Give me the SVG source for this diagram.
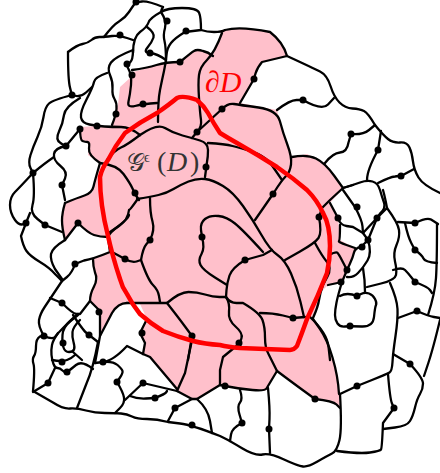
<svg xmlns="http://www.w3.org/2000/svg" width="440" height="473" viewBox="0 0 440 473">
<style>
.l{fill:none;stroke:#000;stroke-width:2.300;stroke-linecap:round;stroke-linejoin:round}
.d{fill:#000;stroke:none}
.t{font-family:"Liberation Serif","DejaVu Serif",serif}
</style>
<rect width="440" height="473" fill="#fff"/>
<path id="region" fill="#ffc0cb" d="M222 31Q240 26 270 32Q283 42 287 56L262 62L257 68L254 79L240 103L277 110L283 133L292 157L307 154L325 163L343 188L330 203L338 218L340 240L355 248L353 257L347 270L342 282L328 285L320 293L318 307L313 318L327 339L338 376L340 408L333 401L315 399L293 383L277 371L268 386L265 391L240 389L220 385L197 399L192 399L177 391L150 357L143 354L145 343L140 333L147 319L140 304L127 303Q118 303 112 313L100 336L100 311L90 301L90 294L98 279L93 266L93 259L110 251L108 237L100 237L88 233L78 223L65 240L62 228L62 213L65 203L77 198L92 193L95 180L100 163L88 155L90 142L85 142L80 140L80 127L97 126L112 127L115 115L118 105L120 87L130 78L133 72L147 68L166 62L180 62L192 52L197 50L208 52L213 55Z"/>
<g id="connectors" class="l">
<path d="M104 37Q113 25 119 21.5Q125 18 129 12Q133 6 134.5 4Q136 2 142 1.5Q148 1 163 7"/>
<path d="M163 7Q161 10 161 12Q167 8 182 8Q197 8 199 12.5Q201 17 201 30L185 32Q175 38 171 43Q167 48 166.5 55Q166 62 164 71Q162 80 160 90Q158 100 158 122"/>
<path d="M201 30Q207 32 214 32Q222 32 225 30Q240 26 270 32Q283 42 287 56"/>
<path d="M222 33Q215 52 207 60Q200 67 199 75Q198 83 199 98Q200 113 201 120Q202 127 197 132"/>
<path d="M180 62Q192 52 194 51Q197 49 203 51Q208 52 213 56"/>
<path d="M161 12Q150 18 148.5 22.5Q147 27 140 32Q133 37 133 53"/>
<path d="M161 12Q167 21 165 28Q163 35 164.500 41Q166 47 166 62"/>
<path d="M147 27Q155 33 153.500 37.500Q152 42 147.500 47.500Q143 53 150 53Q158 54 166 60"/>
<path d="M133 50Q115 57 111 62.500Q107 68 110 75Q113 82 112.500 88.500Q112 95 114.500 99Q117 103 116.500 109Q116 115 112 125"/>
<path d="M133 50Q133 60 130 62.500Q125 64 128 68Q132 75 131 85Q130 95 128.500 101.500Q127 108 135 106Q143 104 157 103"/>
<path d="M132 70Q147 68 156.500 65Q166 62 180 62"/>
<path d="M107 73Q95 77 94 82Q93 87 86.500 99.500Q80 112 81 117.500Q82 123 89.500 124.500Q97 126 104.500 126.500Q112 127 121 127Q130 127 140 135"/>
<path d="M68 52Q77 45 82.500 44Q88 43 91.500 40Q95 37 99.500 37Q104 37 112 36Q120 35 133 40"/>
<path d="M68 52Q68 80 70 87.500Q71 92 72 95Q53 100 49 103.500Q45 107 43.500 117Q42 127 37.500 137Q33 147 30.500 155Q28 163 30.500 168Q32 171 33 173Q20 187 15 192Q10 197 10 205Q10 213 15 220Q20 227 26 223"/>
<path d="M72 95Q80 98 86 92.500L92 87"/>
<path d="M80 98Q65 107 64 115Q63 123 59 131.500Q55 140 60.500 143Q63 145 66 146L80 129"/>
<path d="M66 146Q55 148 54 154Q53 160 60.500 166Q68 172 65 178.500L62 185L65 200"/>
<path d="M33 173Q45 163 54 157"/>
<path d="M33 173Q35 197 32.500 205Q30 213 37.500 219L45 225L62 232"/>
<path d="M26 223L30 213"/>
<path d="M26 223L21 236Q23 246 26.500 251Q30 256 40 262Q50 268 55.500 274.500L62 281"/>
<path d="M65 240Q52 248 51 254Q50 260 55 269L62 279"/>
<path d="M65 203Q62 213 62 220.500Q62 228 65 240"/>
<path d="M65 203Q77 198 84.500 195.500Q92 193 93.500 186.500Q95 180 100 163"/>
<path d="M65 240L78 223Q88 233 94 235Q100 237 108 237"/>
<path d="M108 237Q110 232 119 226Q128 220 129 210Q130 210 137 200"/>
<path d="M108 237L110 252Q93 259 84 260.500L75 264"/>
<path d="M75 264Q72 273 67 277L62 281"/>
<path d="M93 259Q93 266 95 272.500Q98 279 94 286.500Q90 294 90 301"/>
<path d="M100 163Q88 155 89 148.500Q90 142 87.500 142Q85 142 82.500 141Q80 140 80 127"/>
<path d="M100 163Q117 165 123.500 174Q130 183 132.500 188.500L135 194L139 200"/>
<path d="M140 135Q157 123 165 128Q173 133 182.500 135.500Q192 138 200 140.500Q208 143 208 150Q208 157 207 162L205 177"/>
<path d="M107 160Q115 150 121 147.500Q127 145 140 135"/>
<path d="M197 132L192 138"/>
<path d="M287 56L262 62Q257 68 255.500 73.500L254 79L240 103"/>
<path d="M222 109L197 132"/>
<path d="M222 109Q228 103 234 104Q240 105 258.500 107.500Q277 110 280 121.500Q283 133 287.500 145Q292 157 291 164.500Q290 172 286 176Q282 180 277.500 187L273 194L255 220"/>
<path d="M208 143Q225 144 232.500 146Q240 148 251.500 151.500Q263 155 270 162.500L282 180"/>
<path d="M292 157Q307 154 316 158.500Q325 163 334 175.500L343 188L330 200L322 208L319 217Q322 233 318.500 238Q315 243 300 251.500L285 260"/>
<path d="M315 243Q322 256 327 262Q332 268 327.500 276.500L323 285Q320 293 319 300Q318 307 313 318"/>
<path d="M325 163Q333 153 340 152.500Q347 152 348.500 142.500L351 134Q363 135 369 130L375 125"/>
<path d="M277 110Q290 100 296.500 100L303 100Q322 111 328 104.500L334 98"/>
<path d="M287 56Q313 68 320 71.500Q327 75 330.500 86Q334 97 339.500 102.500Q345 108 352.500 108.500Q360 109 364 111Q368 113 375 125"/>
<path d="M375 125Q383 135 388 139Q393 143 400 142.500Q407 142 409.500 147.500Q412 153 413 161.500Q414 170 418.500 177.500Q423 185 440 193"/>
<path d="M381 131L378 150Q367 170 367 180"/>
<path d="M343 188Q353 185 360 182.500Q367 180 372.500 181.500Q378 183 380 190Q382 197 384 202.500Q386 208 380.500 213L377 218L363 233"/>
<path d="M378 183Q390 177 395 176.500L402 175.500L414 169"/>
<path d="M343 190L355 207Q362 220 362.500 226.500L363 233"/>
<path d="M330 203L338 218Q340 225 346.500 226L353 227L363 233L368 240Q372 253 367.500 260.500Q363 268 358 273Q353 278 347 277"/>
<path d="M368 240L361 247Q355 248 354 252.500Q353 257 350 263.500L347 270L342 282L328 285"/>
<path d="M340 225Q340 240 339 241Q338 242 346.500 245L355 248"/>
<path d="M329 255Q335 252 337 252.500Q338 253 340.500 257.500L347 270"/>
<path d="M342 282Q338 295 336.500 302.500Q335 310 335 315Q335 320 337.500 323.500Q340 327 345 326.500Q350 326 361.500 326.500Q373 327 374 317Q375 307 376 305Q377 303 375 299Q373 295 369 293.500Q365 292 361 294L357 296Q347 292 340 296"/>
<path d="M363 268Q365 280 365 292"/>
<path d="M377 218L368 240"/>
<path d="M377 218L387 208Q398 223 399 230Q400 237 396.500 245Q393 253 395 261.500Q397 270 396 275Q395 280 381 283.500L367 287"/>
<path d="M343 188L353 185"/>
<path d="M387 208Q385 197 383 190"/>
<path d="M398 222L415 223Q427 217 431 219.500Q435 222 438 224"/>
<path d="M405 223Q408 237 411.500 243.500L415 250Q422 255 423.500 258.500Q425 262 437 263"/>
<path d="M437 224Q437 263 436 278Q435 293 428 315"/>
<path d="M393 270Q402 267 405 270Q408 273 411.500 277.500L415 282Q428 287 430 290L432 293"/>
<path d="M390 283Q397 299 397.500 309Q398 319 395.500 336Q393 353 392.500 362Q392 371 389.500 372.500Q387 374 372 380L357 386L340 394"/>
<path d="M398 318L417 311Q428 316 434 317L440 318"/>
<path d="M440 320Q433 349 428.500 362.500L424 376"/>
<path d="M393 354L410 364Q423 378 423 383.500Q423 389 420 394Q417 399 415 407.500Q413 416 410 421Q407 426 395 427.500L383 429"/>
<path d="M388 374Q390 399 392 403.500L394 408L383 423Q382 448 381 449.500Q380 451 370 452.500Q360 454 337 451"/>
<path d="M340 394Q342 429 339.500 440Q337 451 332 453.500Q327 456 317.500 461.500Q308 467 303 466.500Q298 466 284 459.500Q270 453 262.500 454.500Q255 456 242.500 448.500Q230 441 225 438.500L220 436Q192 425 180 423.500L168 422Q157 419 147 419Q137 419 132 416.500Q127 414 121 413.500Q115 413 105 413Q95 413 86 410.500Q77 408 70 408.500Q63 409 53 402.500L33 391"/>
<path d="M33 391Q35 369 33.500 364Q32 359 34 356Q36 353 36 346Q36 339 40 336.500L44 336Q38 326 39 320Q40 314 45 306.500Q50 299 56 290L62 281"/>
<path d="M50 298L62 303Q73 314 76.500 314L80 314L90 301L100 311L100 336"/>
<path d="M44 336Q53 340 55.500 336.500Q58 333 65.500 325.500Q73 318 78 314"/>
<path d="M73 315Q83 330 86 332.500L89 335L98 342"/>
<path d="M58 333Q53 340 52 345Q51 350 51.500 355Q52 360 53.500 364Q55 368 57.500 368Q60 368 62.500 370.500Q65 373 67.500 371.500Q70 370 76 365Q82 360 93 369"/>
<path d="M52 360Q62 362 67 360Q72 358 75 355"/>
<path d="M55 368L48 383L33 392"/>
<path d="M80 320Q73 327 72.500 332Q72 337 73.500 342Q75 347 74 349.500Q73 352 69 352Q65 352 63.500 347.500Q62 343 62.500 335Q63 327 70.500 321L78 315"/>
<path d="M73 352L82 360"/>
<path d="M98 342Q93 369 86.500 383.500L77 408"/>
<path d="M95 363L103 362Q113 361 117.500 365Q122 369 122.500 371Q123 373 120 377.500L117 382Q123 392 124 397.500Q125 403 120 408L115 413"/>
<path d="M125 400L143 383L177 391"/>
<path d="M130 396Q137 399 146 398.500L155 398Q165 394 166 392.500L167 391"/>
<path d="M177 391L192 399L175 408L168 421"/>
<path d="M192 399L197 399Q208 409 210 421L212 433"/>
<path d="M197 399L220 385L225 386Q240 389 252.500 390Q265 391 266.500 388.500Q268 386 272.500 378.500L277 371"/>
<path d="M240 390Q243 399 240 402.500Q237 406 239.500 414.500L242 423Q232 428 231 434.500L230 441"/>
<path d="M268 388Q270 409 269.500 419L269 429L270 453"/>
<path d="M277 371Q293 383 304 391L315 399Q333 401 336.500 404.500L340 408"/>
<path d="M339 394Q338 376 332.500 357.500Q327 339 320 329L313 319"/>
<path d="M127 303Q118 303 112 313L100 336L95 363"/>
<path d="M137 199Q150 197 158.500 195Q167 193 173.500 189Q180 185 188.500 181.500Q197 178 205 179Q213 180 223 186Q233 192 243 206Q253 220 261.500 235Q270 250 277.500 255Q285 260 291 273.500Q297 287 300.500 302L304 317"/>
<path d="M272 250L263 255L245 260Q232 268 229.500 275.500Q227 283 226.500 290L226 297"/>
<path d="M263 252Q243 230 235 223.500Q227 217 218.500 216Q210 215 205 219Q200 223 201 230L202 237Q205 248 201.500 254Q198 260 200.500 265Q203 270 215 277.500L227 285"/>
<path d="M110 232Q128 220 129 215"/>
<path d="M112 252L125 259Q132 263 136.500 261.500L141 260Q143 248 146.500 244L150 240Q155 230 152.500 221.500Q150 213 150 198"/>
<path d="M141 260Q148 280 153 285Q158 290 159 296L160 302"/>
<path d="M127 303Q137 303 152 303L167 303Q178 317 185 326.500L192 336L188 360"/>
<path d="M147 319L140 333L145 343L143 354"/>
<path d="M167 303Q180 292 188.500 292Q197 292 205 294.500Q213 297 219.500 297L226 297Q230 303 229 311.500Q228 320 235.500 326.500Q243 333 241.500 338L240 343"/>
<path d="M226 297Q230 303 236.500 303L243 303Q260 313 262.500 320Q265 327 265 337.500Q265 348 268.500 354L277 371"/>
<path d="M260 313Q273 313 283 315.500L293 318L305 317"/>
<path d="M240 343L223 357L220 370L220 385"/>
<path d="M192 340L185 373L177 391"/>
<path d="M143 354L127 346Q113 361 103 362"/>
<path d="M143 354L150 357L177 389"/>
<path d="M310 317Q327 333 328.500 346.500L330 360"/>
</g>
<g id="dots" class="d">
<circle cx="136" cy="2" r="3.500"/><circle cx="167" cy="21" r="3.500"/><circle cx="120" cy="35" r="3.500"/><circle cx="186" cy="31" r="3.500"/><circle cx="150" cy="53" r="3.500"/><circle cx="127" cy="64" r="3.500"/><circle cx="132" cy="75" r="3.500"/><circle cx="180" cy="62" r="3.500"/><circle cx="143" cy="104" r="3.500"/><circle cx="116" cy="114" r="3.500"/><circle cx="97" cy="126" r="3.500"/><circle cx="80" cy="129" r="3.500"/><circle cx="72" cy="95" r="3.500"/><circle cx="66" cy="146" r="3.500"/><circle cx="62" cy="185" r="3.500"/><circle cx="33" cy="173" r="3.500"/><circle cx="26" cy="223" r="3.500"/><circle cx="45" cy="225" r="3.500"/><circle cx="78" cy="223" r="3.500"/><circle cx="135" cy="193" r="3.500"/><circle cx="206" cy="167" r="3.500"/><circle cx="197" cy="132" r="3.500"/><circle cx="222" cy="109" r="3.500"/><circle cx="254" cy="79" r="3.500"/><circle cx="303" cy="100" r="3.500"/><circle cx="351" cy="134" r="3.500"/><circle cx="378" cy="150" r="3.500"/><circle cx="401" cy="176" r="3.500"/><circle cx="357" cy="207" r="3.500"/><circle cx="377" cy="218" r="3.500"/><circle cx="338" cy="218" r="3.500"/><circle cx="319" cy="217" r="3.500"/><circle cx="273" cy="194" r="3.500"/><circle cx="368" cy="240" r="3.500"/><circle cx="362" cy="247" r="3.500"/><circle cx="347" cy="270" r="3.500"/><circle cx="341" cy="282" r="3.500"/><circle cx="357" cy="296" r="3.500"/><circle cx="350" cy="326" r="3.500"/><circle cx="415" cy="223" r="3.500"/><circle cx="415" cy="250" r="3.500"/><circle cx="415" cy="282" r="3.500"/><circle cx="417" cy="311" r="3.500"/><circle cx="357" cy="386" r="3.500"/><circle cx="410" cy="364" r="3.500"/><circle cx="394" cy="408" r="3.500"/><circle cx="315" cy="399" r="3.500"/><circle cx="225" cy="386" r="3.500"/><circle cx="242" cy="423" r="3.500"/><circle cx="269" cy="429" r="3.500"/><circle cx="293" cy="318" r="3.500"/><circle cx="239" cy="343" r="3.500"/><circle cx="245" cy="260" r="3.500"/><circle cx="202" cy="237" r="3.500"/><circle cx="150" cy="240" r="3.500"/><circle cx="125" cy="259" r="3.500"/><circle cx="192" cy="336" r="3.500"/><circle cx="142" cy="333" r="3.500"/><circle cx="155" cy="398" r="3.500"/><circle cx="143" cy="383" r="3.500"/><circle cx="117" cy="382" r="3.500"/><circle cx="103" cy="362" r="3.500"/><circle cx="192" cy="425" r="3.500"/><circle cx="175" cy="408" r="3.500"/><circle cx="89" cy="335" r="3.500"/><circle cx="99" cy="312" r="3.500"/><circle cx="62" cy="303" r="3.500"/><circle cx="75" cy="264" r="3.500"/><circle cx="44" cy="336" r="3.500"/><circle cx="63" cy="343" r="3.500"/><circle cx="62" cy="362" r="3.500"/><circle cx="67" cy="372" r="3.500"/><circle cx="48" cy="383" r="3.500"/>
</g>
<path id="boundary" fill="none" stroke="#f00" stroke-width="4.500" stroke-linejoin="round" d="M108 236Q100 205 100 177Q102 168 108 160Q115 146 125 133Q140 122 157 113Q170 104 177 98Q183 95 197 100Q204 106 208 113Q214 124 220 133Q228 138 237 143Q258 155 277 167Q293 178 307 190Q317 200 323 213Q330 225 330 246Q330 260 327 273Q318 296 307 319Q302 333 297 346Q294 350 290 350L240 348Q228 347 220 345Q205 344 193 341Q178 337 163 331Q150 323 140 314Q132 304 127 294Q122 287 120 279Q116 267 113 256Q110 245 108 236Z"/>
<text class="t" x="205" y="92" font-size="30" font-style="italic" fill="#f00">∂D</text>
<g class="t" fill="#333" font-size="28">
<text x="127" y="171" font-size="25">𝒢</text>
<text x="144" y="162" font-size="14">ϵ</text>
<text x="157" y="171">(</text>
<text x="167" y="171" font-style="italic">D</text>
<text x="190" y="171">)</text>
</g>
</svg>
